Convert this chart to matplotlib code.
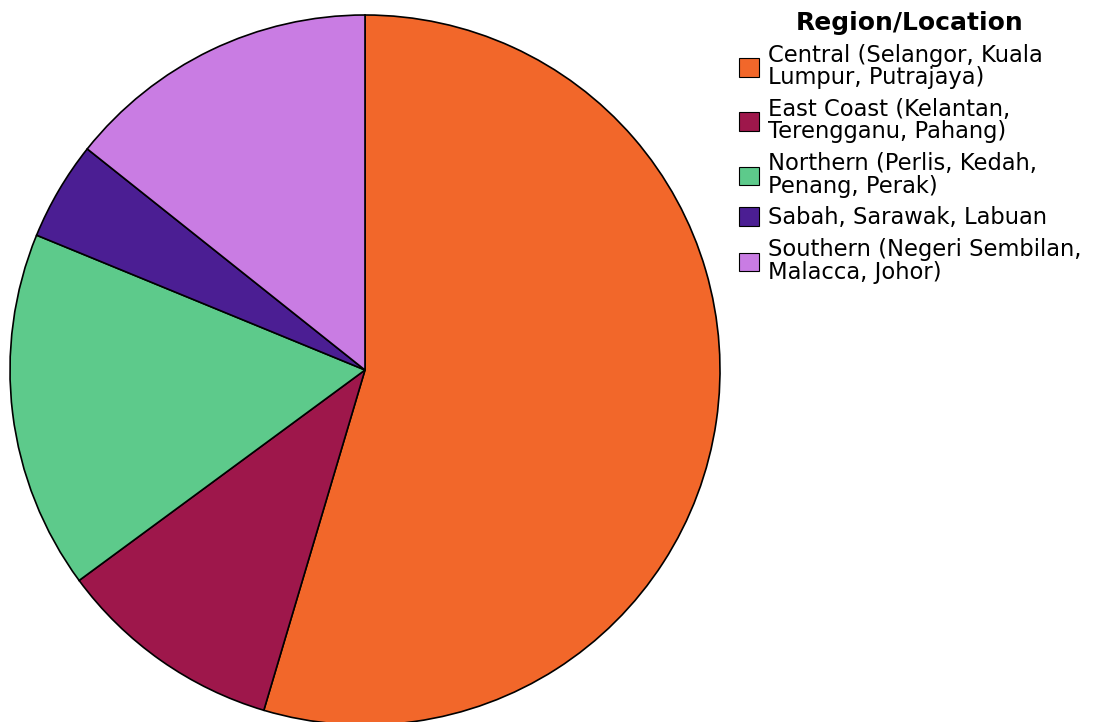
import matplotlib
matplotlib.use("Agg")
import matplotlib.pyplot as plt

labels = ["Central (Selangor, Kuala\nLumpur, Putrajaya)",
          "East Coast (Kelantan,\nTerengganu, Pahang)",
          "Northern (Perlis, Kedah,\nPenang, Perak)",
          "Sabah, Sarawak, Labuan",
          "Southern (Negeri Sembilan,\nMalacca, Johor)"]
values = [54.6, 10.3, 16.3, 4.5, 14.3]
colors = ["#F2672A", "#9E174B", "#5DCA8B", "#4B1E93", "#C97CE3"]

fig = plt.figure(figsize=(11, 7.22), dpi=100)
W, H = 1100, 722
cx, cy, r = 365, 370, 355
ax = fig.add_axes([(cx - r) / W, (H - cy - r) / H, 2 * r / W, 2 * r / H])
wedges, _ = ax.pie(values, colors=colors, startangle=90, counterclock=False,
                   radius=1, wedgeprops=dict(edgecolor="black", linewidth=1.2))
ax.set_xlim(-1, 1)
ax.set_ylim(-1, 1)
ax.set_aspect("equal")
ax.axis("off")

leg = fig.legend(wedges, labels, title="Region/Location", loc="upper left",
                 bbox_to_anchor=(739 / W, 1 - 11 / H), frameon=False,
                 prop={"family": "DejaVu Sans", "size": 16.3},
                 handlelength=0.9, handleheight=0.9, handletextpad=0.36,
                 labelspacing=0.38, borderaxespad=0, borderpad=0)
leg.get_title().set_fontsize(18)
leg.get_title().set_fontweight("bold")
for t in leg.get_texts():
    t.set_linespacing(0.98)
for h in leg.legend_handles:
    h.set_linewidth(0.8)

fig.savefig("out.png", dpi=100)
